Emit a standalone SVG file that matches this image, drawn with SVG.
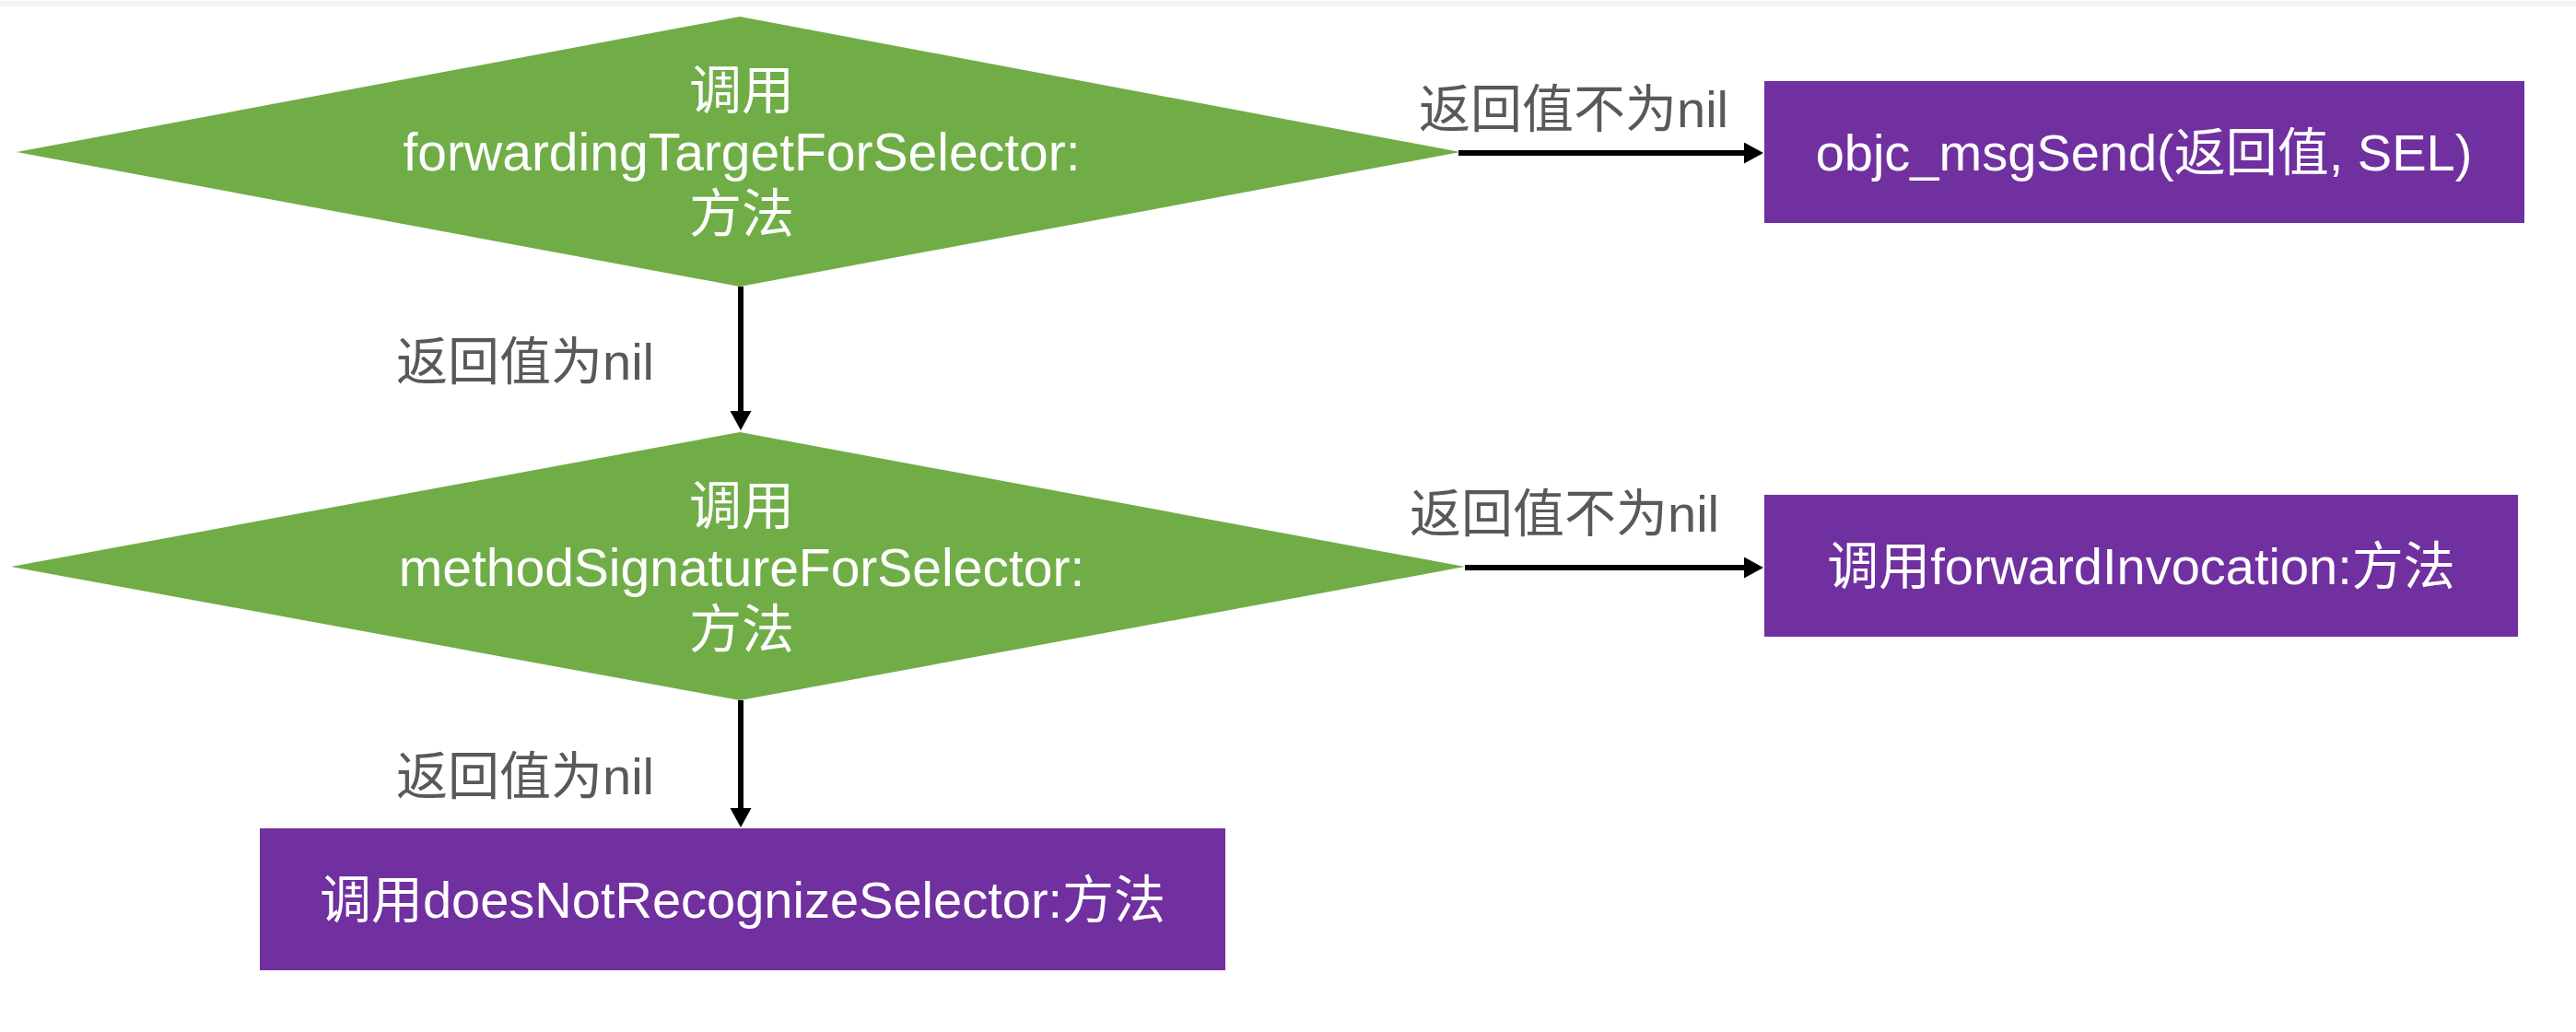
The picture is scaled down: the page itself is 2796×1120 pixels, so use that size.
<svg xmlns="http://www.w3.org/2000/svg" width="2796" height="1120" viewBox="0 0 2796 1120">
  <style>
    .decision { fill: #70AD47; }
    .process { fill: #7030A0; }
    .ntext { fill: #FFFFFF; font-family: "Liberation Sans", "Noto Sans CJK SC", sans-serif; font-size: 56px; text-anchor: middle; }
    .dtext { font-size: 57px; }
    .label { fill: #595959; font-family: "Liberation Sans", "Noto Sans CJK SC", sans-serif; font-size: 56px; }
    .conn { stroke: #000000; stroke-width: 6; fill: none; }
  </style>
  <defs>
    <marker id="arrow" markerUnits="userSpaceOnUse" markerWidth="24" markerHeight="24" refX="11" refY="11.5" orient="auto">
      <path d="M0,0 L21,11.5 L0,23 Z" fill="#000000"/>
    </marker>
  </defs>
  <rect x="0" y="0" width="2796" height="1120" fill="#FFFFFF"/>
  <rect x="0" y="1" width="2796" height="6" fill="#F4F4F4"/>

  <g id="connectors">
    <line class="conn" x1="1583" y1="166" x2="1904" y2="166" marker-end="url(#arrow)"/>
    <line class="conn" x1="804" y1="311" x2="804" y2="457" marker-end="url(#arrow)"/>
    <line class="conn" x1="1590" y1="616" x2="1904" y2="616" marker-end="url(#arrow)"/>
    <line class="conn" x1="804" y1="760" x2="804" y2="888" marker-end="url(#arrow)"/>
    <text class="label" x="1540" y="138">返回值不为nil</text>
    <text class="label" x="430" y="412">返回值为nil</text>
    <text class="label" x="1530" y="577">返回值不为nil</text>
    <text class="label" x="430" y="862">返回值为nil</text>
  </g>

  <g id="node-forwardingTarget">
    <polygon class="decision" points="803,18 1585,165 803,311 18,165"/>
    <text class="ntext dtext" x="805" y="118">调用</text>
    <text class="ntext dtext" x="805" y="185">forwardingTargetForSelector:</text>
    <text class="ntext dtext" x="805" y="252">方法</text>
  </g>

  <g id="node-objc-msgSend">
    <rect class="process" x="1915" y="88" width="825" height="154"/>
    <text class="ntext" x="2327" y="185">objc_msgSend(返回值, SEL)</text>
  </g>

  <g id="node-methodSignature">
    <polygon class="decision" points="803,469 1590,615 803,760 12,615"/>
    <text class="ntext dtext" x="805" y="569">调用</text>
    <text class="ntext dtext" x="805" y="636">methodSignatureForSelector:</text>
    <text class="ntext dtext" x="805" y="703">方法</text>
  </g>

  <g id="node-forwardInvocation">
    <rect class="process" x="1915" y="537" width="818" height="154"/>
    <text class="ntext" x="2324" y="634">调用forwardInvocation:方法</text>
  </g>

  <g id="node-doesNotRecognize">
    <rect class="process" x="282" y="899" width="1048" height="154"/>
    <text class="ntext" x="806" y="996">调用doesNotRecognizeSelector:方法</text>
  </g>
</svg>
